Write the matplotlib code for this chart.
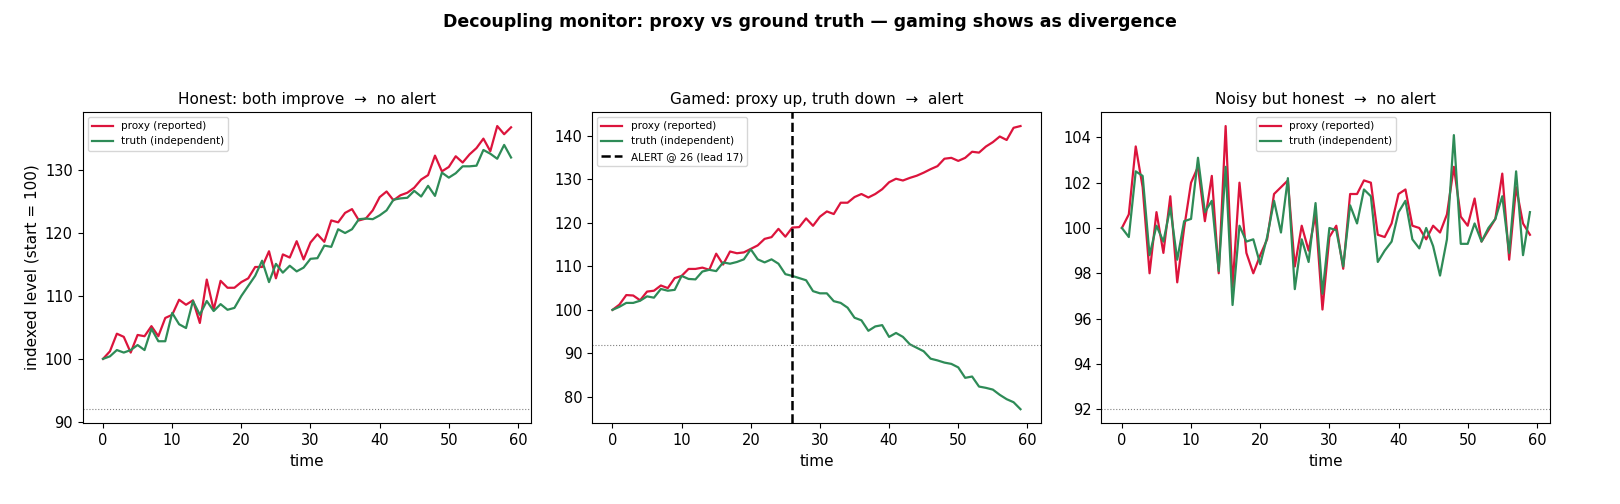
import matplotlib
matplotlib.use("Agg")
import matplotlib.pyplot as plt
import numpy as np

t = list(range(60))
honest_proxy = [100,101.2,104,103.5,101,103.8,103.6,105.2,103.6,106.5,107,109.4,108.6,109.3,105.7,112.6,107.8,112.4,111.3,111.3,112.2,112.8,114.6,114.6,117.1,112.8,116.6,116.1,118.7,115.8,118.5,119.8,118.6,122,121.7,123.2,123.8,122,122.3,123.6,125.7,126.6,125.2,126,126.4,127.2,128.5,129.2,132.3,129.8,130.5,132.2,131.2,132.5,133.5,135,133,137,135.7,136.8]
honest_truth = [100,100.4,101.4,101,101.4,102.2,101.4,104.8,102.8,102.8,107.3,105.5,104.9,109.2,107,109.2,107.6,108.7,107.8,108.1,110,111.6,113.2,115.6,112.2,115.1,113.7,114.8,113.9,114.5,115.9,116,118,117.8,120.6,120,120.6,122.2,122.3,122.2,122.8,123.6,125.3,125.5,125.6,126.7,125.8,127.5,125.9,129.6,128.8,129.5,130.6,130.6,130.7,133.2,132.6,131.8,134,132]
gamed_proxy = [100,101.2,103.4,103.3,102.2,104.2,104.4,105.6,105,107.3,107.8,109.4,109.4,109.7,109.2,112.9,110.4,113.4,113,113.2,114,114.8,116.3,116.7,118.6,116.8,118.9,119,121,119.3,121.4,122.6,122,124.6,124.6,125.9,126.6,125.8,126.6,127.7,129.3,130.1,129.7,130.3,130.8,131.5,132.3,133,134.7,134.9,134.2,134.9,136.3,136.1,137.5,138.5,139.8,139,141.8,142.2]
gamed_truth = [100,100.7,101.6,101.6,102.1,103.1,102.8,104.8,104.4,104.6,107.8,107.1,107,108.8,109.2,108.9,110.9,110.6,111,111.6,113.9,111.6,110.9,111.6,110.6,108.2,107.8,107.3,106.8,104.3,103.8,103.8,102,101.6,100.5,98.2,97.6,95.2,96.2,96.5,93.8,94.7,93.8,92.1,91.3,90.5,88.8,88.4,87.9,87.6,86.8,84.4,84.7,82.4,82.1,81.7,80.5,79.5,78.8,77.2]
noisy_proxy = [100,100.6,103.6,101.8,98,100.7,98.9,101.4,97.6,100,102,102.7,100.3,102.3,98,104.5,97.4,102,98.9,98,98.8,99.5,101.5,101.8,102.1,98.3,100.1,99,100.6,96.4,99.6,100.1,98.2,101.5,101.5,102.1,102,99.7,99.6,100.2,101.5,101.7,100.1,100,99.5,100.1,99.8,100.6,102.7,100.5,100.1,101.3,99.4,99.9,100.4,102.4,98.6,101.8,100.2,99.7]
noisy_truth = [100,99.6,102.5,102.3,98.8,100.1,99.4,100.9,98.6,100.3,100.4,103.1,100.7,101.2,98.1,102.7,96.6,100.1,99.4,99.5,98.4,99.6,101.2,99.8,102.2,97.3,99.5,98.5,101.1,97.1,100,99.9,98.3,101,100.2,101.7,101.4,98.5,99,99.4,100.7,101.2,99.5,99.1,100,99.2,97.9,99.5,104.1,99.3,99.3,100.2,99.4,100,100.4,101.4,98.9,102.5,98.8,100.7]
titles = ["Honest: both improve  →  no alert", "Gamed: proxy up, truth down  →  alert", "Noisy but honest  →  no alert"]
threshold = 92
alert_t = 26

fig, axes = plt.subplots(1, 3, figsize=(16.2, 5.04), dpi=100)
data = [(honest_proxy, honest_truth), (gamed_proxy, gamed_truth), (noisy_proxy, noisy_truth)]
for i, (ax, (p, tr)) in enumerate(zip(axes, data)):
    ax.plot(t, p, color="#dc143c", lw=1.6, label="proxy (reported)")
    ax.plot(t, tr, color="#2e8b57", lw=1.6, label="truth (independent)")
    ax.axhline(threshold, color="gray", lw=0.8, ls=":")
    if i == 1:
        ax.axvline(alert_t, color="black", lw=1.8, ls="--", label=f"ALERT @ {alert_t} (lead 17)")
    ax.set_title(titles[i], fontsize=11)
    ax.set_xlabel("time", fontsize=11)
    ax.tick_params(labelsize=10.5)
    ax.legend(loc="upper center" if i == 2 else "upper left", fontsize=7.5)
axes[0].set_ylabel("indexed level (start = 100)", fontsize=11)
fig.suptitle("Decoupling monitor: proxy vs ground truth — gaming shows as divergence", fontsize=12.5, fontweight="bold", y=0.975)
fig.subplots_adjust(left=0.051, right=0.957, top=0.778, bottom=0.16, wspace=0.135)
fig.savefig("out.png")
